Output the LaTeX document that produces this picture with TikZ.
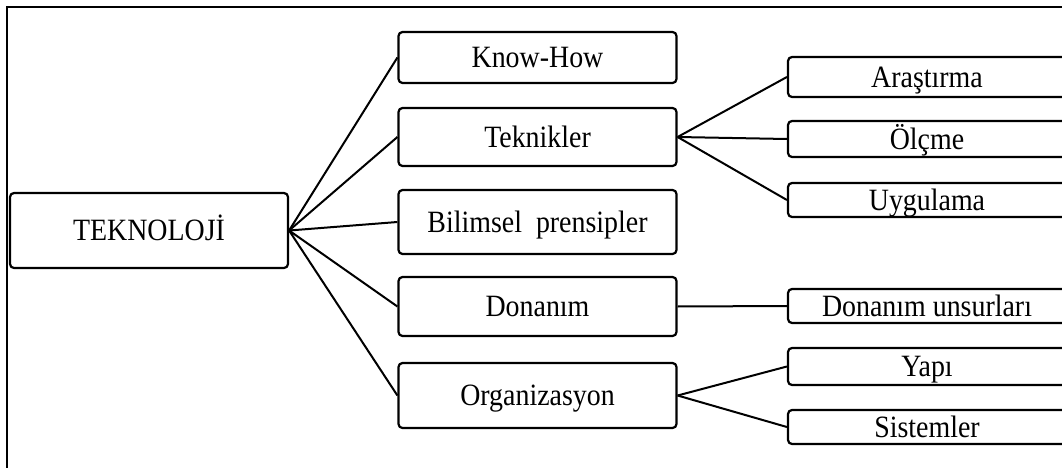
\documentclass[tikz,border=0pt]{standalone}
\usepackage{fontspec}
\setmainfont{Liberation Serif}[FakeStretch=0.9]
\begin{document}
\begin{tikzpicture}[x=1pt,y=-1pt,
  box/.style={draw=black,line width=2.2pt,rounded corners=4pt,fill=white,
    minimum width=278pt,inner sep=0pt,text height=20.5pt,text depth=0pt,
    font=\fontsize{31pt}{34pt}\selectfont},
  link/.style={draw=black,line width=2pt}]
\useasboundingbox (0,0) rectangle (1062,468);
% open outer frame
\draw[line width=2.6pt] (7,470) -- (7,7) -- (1064,7);
% root
\node[box,minimum height=75pt] (tek) at (149,230.5) {TEKNOLOJİ};
% first level
\node[box,minimum height=51pt] (kh)  at (537.5,57.5)  {Know-How};
\node[box,minimum height=58pt] (tk)  at (537.5,137)   {Teknikler};
\node[box,minimum height=64pt] (bp)  at (537.5,222)   {Bilimsel\hspace{0.45em}prensipler};
\node[box,minimum height=59pt] (dn)  at (537.5,306.5) {Donanım};
\node[box,minimum height=65pt] (org) at (537.5,395.5) {Organizasyon};
% second level
\node[box,minimum height=40pt] (ar) at (927,77)    {Araştırma};
\node[box,minimum height=36pt] (ol) at (927,139)   {Ölçme};
\node[box,minimum height=34pt] (uy) at (927,200)   {Uygulama};
\node[box,minimum height=34pt] (du) at (927,306)   {Donanım unsurları};
\node[box,minimum height=37pt] (ya) at (927,366.5) {Yapı};
\node[box,minimum height=34pt] (si) at (927,427)   {Sistemler};
% connectors
\foreach \n in {kh,tk,bp,dn,org} \draw[link] (tek.east) -- (\n.west);
\foreach \n in {ar,ol,uy} \draw[link] (tk.east) -- (\n.west);
\draw[link] (dn.east) -- (du.west);
\foreach \n in {ya,si} \draw[link] (org.east) -- (\n.west);
\end{tikzpicture}
\end{document}
